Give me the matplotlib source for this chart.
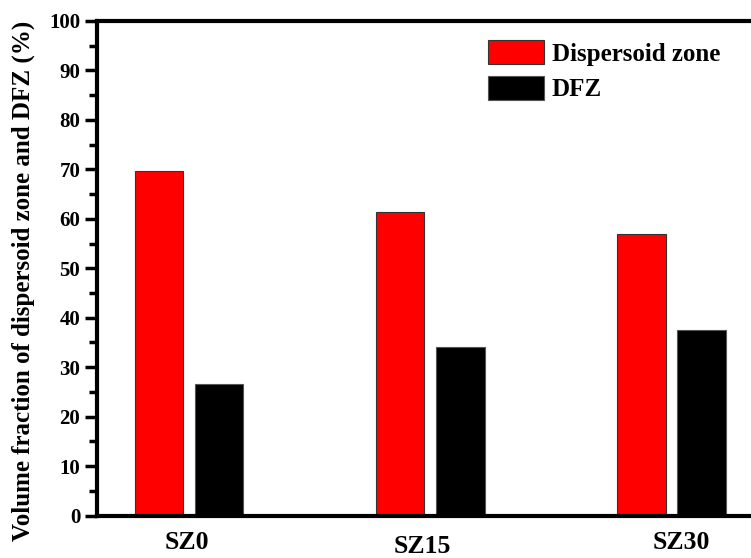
import matplotlib
matplotlib.use("Agg")
import matplotlib.pyplot as plt
import matplotlib.transforms as mtransforms
import numpy as np

categories = ["SZ0", "SZ15", "SZ30"]
dispersoid_zone = [69.7, 61.4, 56.9]
dfz = [26.5, 34.1, 37.6]
series_names = ["Dispersoid zone", "DFZ"]
y_ticks = [0, 10, 20, 30, 40, 50, 60, 70, 80, 90, 100]
y_label = "Volume fraction of dispersoid zone and DFZ (%)"

# layout tweaks for category labels (style, not data)
label_dx = [-0.008, -0.031, 0.039]
label_dy_px = [-27, -31, -27]

W, H = 751, 558
dpi = 100
fig = plt.figure(figsize=(W / dpi, H / dpi), dpi=dpi)
plt.rcParams['font.family'] = ['Liberation Serif', 'DejaVu Serif']
plt.rcParams['font.weight'] = 'bold'

xmin, xmax = -0.381, 2.45
px_per_unit = 241.25
left_px, top_px, bottom_px = 97, 21, 515.5
width_px = (xmax - xmin) * px_per_unit
ax = fig.add_axes([left_px / W, 1 - bottom_px / H, width_px / W, (bottom_px - top_px) / H])

x = np.arange(len(categories))
bw = 0.201
off = 0.125
b1 = ax.bar(x - off, dispersoid_zone, bw, color='#ff0000', edgecolor='#333333', linewidth=0.8, label=series_names[0])
b2 = ax.bar(x + off, dfz, bw, color='#000000', edgecolor='#555555', linewidth=0.8, label=series_names[1])

ax.set_xlim(xmin, xmax)
ax.set_ylim(0, 100)
ax.set_yticks(y_ticks)
ax.set_yticks(np.arange(5, 100, 10), minor=True)
ax.set_xticks([])
for s in ax.spines.values():
    s.set_linewidth(3)
ax.tick_params(axis='y', which='major', direction='out', length=9, width=2.5, labelsize=15, pad=3)
ax.tick_params(axis='y', which='minor', direction='out', length=5.5, width=2.5)
for lab in ax.get_yticklabels():
    lab.set_fontweight('bold')

trans = mtransforms.blended_transform_factory(ax.transData, ax.transAxes)
for i, c in enumerate(categories):
    ax.text(x[i] + label_dx[i], 0, c,
            transform=trans + mtransforms.ScaledTranslation(0, label_dy_px[i] / dpi, fig.dpi_scale_trans),
            ha='center', va='center', fontsize=18.5, fontweight='bold')

fig.text(23 / W, 1 - 281 / H, y_label, rotation=90, ha='center', va='center', fontsize=18, fontweight='bold')

leg = ax.legend(handles=[b1, b2], loc='upper left', bbox_to_anchor=(488 / W, 1 - 40 / H),
                bbox_transform=fig.transFigure, frameon=False, fontsize=18,
                handlelength=2.24, handleheight=1.12, handletextpad=0.32,
                labelspacing=0.4, borderpad=0, borderaxespad=0)
for t in leg.get_texts():
    t.set_fontweight('bold')

fig.savefig("out.png", dpi=dpi)
